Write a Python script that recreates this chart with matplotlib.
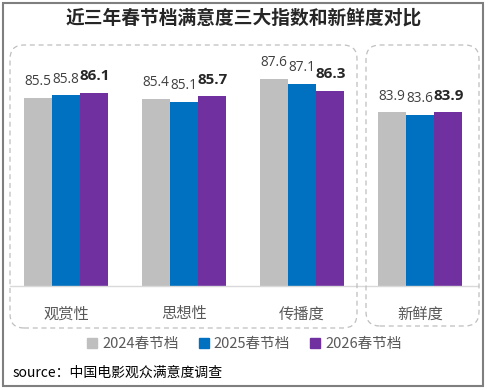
import matplotlib

matplotlib.use("Agg")
import matplotlib.pyplot as plt
import numpy as np
from matplotlib.patches import FancyBboxPatch, Rectangle
from matplotlib.transforms import IdentityTransform

plt.rcParams["font.family"] = ["Noto Sans CJK SC", "DejaVu Sans"]

categories = ["观赏性", "思想性", "传播度", "新鲜度"]
series_names = ["2024春节档", "2025春节档", "2026春节档"]
s2024 = [85.5, 85.4, 87.6, 83.9]
s2025 = [85.8, 85.1, 87.1, 83.6]
s2026 = [86.1, 85.7, 86.3, 83.9]
colors = ["#BFBFBF", "#0070C0", "#7030A0"]

W, H = 488, 390
fig = plt.figure(figsize=(W / 100, H / 100), dpi=100)

# bar axes in pixel layout: baseline at y=286, top at 48
ax = fig.add_axes([10 / W, (H - 286) / H, 468 / W, 238 / H])
x = np.arange(len(categories))
w = 28 / 118
for i, (vals, col) in enumerate(zip([s2024, s2025, s2026], colors)):
    xs = x + (i - 1) * w
    ax.bar(xs, vals, width=w, color=col, label=series_names[i])
    for xv, v in zip(xs, vals):
        bold = i == 2
        ax.annotate(f"{v:.1f}", (xv, v), xytext=(0.5 if bold else 0, 9),
                    textcoords="offset points",
                    ha="center", va="baseline", family=["Open Sans", "DejaVu Sans"],
                    fontsize=11 if bold else 9.8,
                    fontweight="bold" if bold else "normal",
                    color="#262626" if bold else "#404040")

ax.set_xlim((10 - 66) / 118, (478 - 66) / 118)
ax.set_ylim(64.6, 64.6 + 238 / 9)
ax.set_xticks(x)
ax.set_xticklabels(categories, fontsize=11, color="#595959")
ax.tick_params(axis="x", length=0, pad=14)
ax.set_yticks([])
for s in ["top", "left", "right"]:
    ax.spines[s].set_visible(False)
ax.spines["bottom"].set_color("#D9D9D9")
ax.spines["bottom"].set_linewidth(1.0)
ax.patch.set_alpha(0)

# dashed rounded group boxes (pixel coords, y from bottom)
for (x0, x1, y0, y1) in [(10, 357, 45, 328), (366, 479, 45, 326)]:
    box = FancyBboxPatch((x0, H - y1), x1 - x0, y1 - y0,
                         boxstyle="round,pad=0,rounding_size=14",
                         transform=IdentityTransform(), fill=False,
                         edgecolor="#BFBFBF", linewidth=0.9, linestyle=(0, (4, 3)))
    fig.patches.append(box)

# outer border
fig.patches.append(Rectangle((3, H - 386), 480, 383, transform=IdentityTransform(),
                             fill=False, edgecolor="#7F7F7F", linewidth=1.5))

fig.text(0.5, 1 - 18 / H, "近三年春节档满意度三大指数和新鲜度对比", ha="center", va="center",
         fontsize=13.5, fontweight="bold", color="#262626")

handles = [plt.Line2D([], [], marker="s", linestyle="none", markersize=7,
                      markerfacecolor=c, markeredgecolor=c) for c in colors]
fig.legend(handles, series_names, loc="center", bbox_to_anchor=(0.5, 1 - 344 / H),
           ncol=3, frameon=False, fontsize=10.5, labelcolor="#595959",
           handlelength=0.8, handletextpad=0.3, columnspacing=1.3)

fig.text(13 / W, 1 - 373 / H, "source：中国电影观众满意度调查", ha="left", va="center",
         fontsize=10, color="#000000")

fig.savefig("out.png", dpi=100)
